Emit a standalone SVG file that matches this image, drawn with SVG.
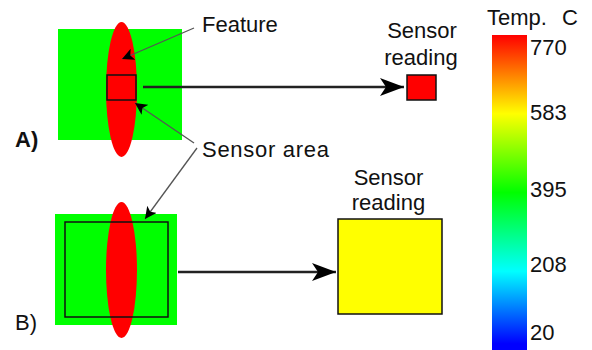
<svg xmlns="http://www.w3.org/2000/svg" width="592" height="350" viewBox="0 0 592 350">
<style>
text{font-family:"Liberation Sans",Arial,sans-serif;font-size:22px;fill:#111}
.main{stroke:#222;stroke-width:2.5;fill:none}
.ptr{stroke:#555;stroke-width:1.3;fill:none}
.box{fill:none;stroke:#111;stroke-width:1.5}
</style>
<defs>
<marker id="big" markerUnits="userSpaceOnUse" markerWidth="26" markerHeight="20" refX="24" refY="10" orient="auto">
<path d="M0,1 L24,10 L0,19 L6,10 z" fill="#000"/>
</marker>
<marker id="small" markerUnits="userSpaceOnUse" markerWidth="14" markerHeight="12" refX="12" refY="6" orient="auto">
<path d="M0,0 L12,6 L0,12 L3,6 z" fill="#000"/>
</marker>
<linearGradient id="temp" x1="0" y1="0" x2="0" y2="1">
<stop offset="0" stop-color="#ff0000"/>
<stop offset="0.25" stop-color="#ffff00"/>
<stop offset="0.5" stop-color="#00ff00"/>
<stop offset="0.75" stop-color="#00ffff"/>
<stop offset="0.98" stop-color="#0000ff"/>
</linearGradient>
</defs>
<g id="panelA">
<rect x="58" y="29" width="124" height="111" fill="#00ff00"/>
<ellipse cx="121.5" cy="89.5" rx="15.5" ry="67.5" fill="#ff0000"/>
<rect class="box" x="107" y="75" width="29" height="25"/>
<text x="15" y="147" font-weight="bold">A)</text>
</g>
<g id="readingA">
<rect x="407" y="75" width="29" height="25" fill="#ff0000" stroke="#111" stroke-width="1.5"/>
<text x="422" y="38" text-anchor="middle">Sensor</text>
<text x="421" y="65" text-anchor="middle">reading</text>
</g>
<g id="panelB">
<rect x="55" y="214" width="122" height="111" fill="#00ff00"/>
<ellipse cx="121.5" cy="270" rx="15.5" ry="68" fill="#ff0000"/>
<rect class="box" x="65" y="222" width="103" height="95"/>
<text x="15" y="330">B)</text>
</g>
<g id="readingB">
<rect x="338" y="219" width="104" height="95" fill="#ffff00" stroke="#111" stroke-width="1.5"/>
<text x="388.5" y="185" text-anchor="middle">Sensor</text>
<text x="388.5" y="210" text-anchor="middle">reading</text>
</g>
<g id="feature-label">
<text x="202" y="32">Feature</text>
</g>
<g id="sensor-area-label">
<text x="202" y="157" textLength="127">Sensor area</text>
</g>
<g id="colorbar">
<rect x="492" y="35" width="35" height="315" fill="url(#temp)"/>
<text x="487" y="25">Temp.<tspan x="562">C</tspan></text>
<text x="530" y="55">770</text>
<text x="530" y="120">583</text>
<text x="530" y="197">395</text>
<text x="530" y="272">208</text>
<text x="530" y="340">20</text>
</g>
<g id="connectors">
<line class="main" x1="143" y1="87" x2="404" y2="87" marker-end="url(#big)"/>
<line class="main" x1="178" y1="272" x2="336" y2="272" marker-end="url(#big)"/>
<line class="ptr" x1="194" y1="28" x2="122" y2="59" marker-end="url(#small)"/>
<line class="ptr" x1="194" y1="143" x2="135" y2="103" marker-end="url(#small)"/>
<line class="ptr" x1="197" y1="148" x2="145" y2="219" marker-end="url(#small)"/>
</g>
</svg>
